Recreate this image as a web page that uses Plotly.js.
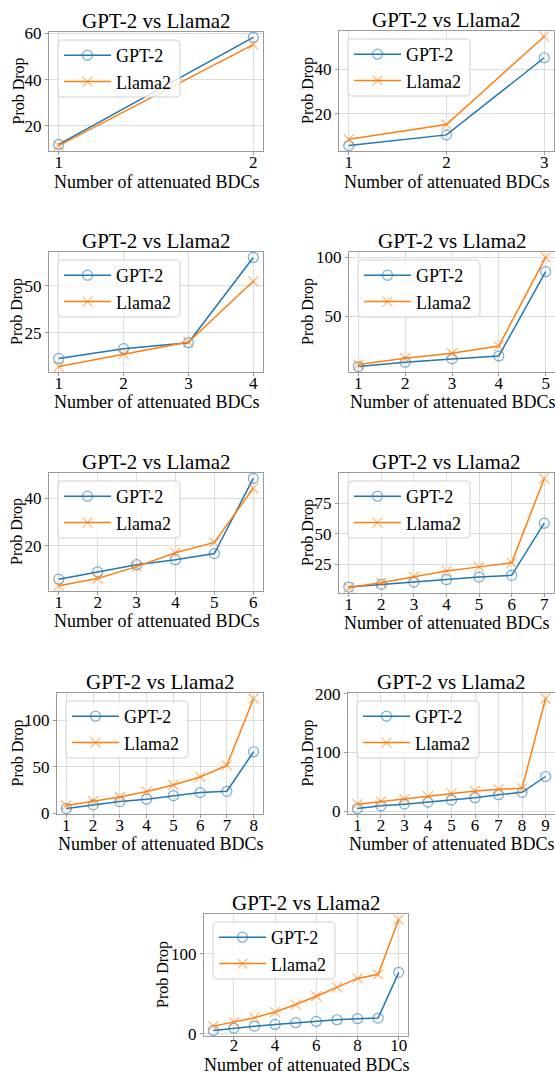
<!DOCTYPE html>
<html>
<head>
<meta charset="utf-8">
<script src="https://cdn.plot.ly/plotly-3.0.1.min.js"></script>
<style>html,body{margin:0;padding:0;background:#fff;}#chart{width:555px;height:1077px;}</style>
</head>
<body>
<div id="chart"></div>
<script>
// ---- data ----
const seriesNames = ["GPT-2", "Llama2"];
const chartTitle = "GPT-2 vs Llama2";
const xLabel = "Number of attenuated BDCs";
const yLabel = "Prob Drop";

const bdc_1 = [1, 2];
const gpt2_1 = [11.9, 58.3];
const llama2_1 = [11.4, 55.2];

const bdc_2 = [1, 2, 3];
const gpt2_2 = [5.6, 10.4, 45.2];
const llama2_2 = [8.4, 15.1, 54.8];

const bdc_3 = [1, 2, 3, 4];
const gpt2_3 = [11.3, 16.5, 19.7, 65.1];
const llama2_3 = [7.0, 13.6, 20.1, 52.4];

const bdc_4 = [1, 2, 3, 4, 5];
const gpt2_4 = [7.3, 11.0, 13.8, 16.3, 87.9];
const llama2_4 = [9.0, 14.4, 18.6, 24.7, 100.0];

const bdc_5 = [1, 2, 3, 4, 5, 6];
const gpt2_5 = [5.9, 9.0, 12.0, 14.1, 16.7, 48.3];
const llama2_5 = [3.2, 6.2, 11.2, 17.0, 21.4, 44.1];

const bdc_6 = [1, 2, 3, 4, 5, 6, 7];
const gpt2_6 = [6.3, 8.5, 10.4, 12.3, 14.5, 15.9, 58.5];
const llama2_6 = [5.9, 9.8, 14.8, 19.5, 22.8, 26.1, 95.1];

const bdc_7 = [1, 2, 3, 4, 5, 6, 7, 8];
const gpt2_7 = [5.0, 8.9, 12.5, 15.0, 18.9, 22.1, 23.5, 66.0];
const llama2_7 = [8.2, 13.1, 17.4, 23.2, 30.3, 38.9, 51.4, 123.2];

const bdc_8 = [1, 2, 3, 4, 5, 6, 7, 8, 9];
const gpt2_8 = [4.6, 9.2, 12.0, 15.4, 18.9, 23.0, 28.1, 32.1, 59.0];
const llama2_8 = [12.0, 16.6, 20.6, 25.7, 30.3, 34.3, 37.2, 38.9, 191.6];

const bdc_9 = [1, 2, 3, 4, 5, 6, 7, 8, 9, 10];
const gpt2_9 = [4.2, 7.1, 9.6, 11.7, 13.9, 15.5, 17.6, 18.9, 19.7, 76.9];
const llama2_9 = [9.6, 14.6, 20.2, 27.2, 36.6, 47.0, 58.0, 69.3, 74.4, 142.9];

const panelData = [
  [bdc_1, gpt2_1, llama2_1],
  [bdc_2, gpt2_2, llama2_2],
  [bdc_3, gpt2_3, llama2_3],
  [bdc_4, gpt2_4, llama2_4],
  [bdc_5, gpt2_5, llama2_5],
  [bdc_6, gpt2_6, llama2_6],
  [bdc_7, gpt2_7, llama2_7],
  [bdc_8, gpt2_8, llama2_8],
  [bdc_9, gpt2_9, llama2_9]
];

// ---- layout (pixel boxes: left, right, top, bottom) ----
const W = 555, H = 1077;
const boxes = [
  [49, 263, 32, 151],
  [339, 554, 31, 151],
  [49, 263, 252, 372],
  [349, 555, 252, 372],
  [49, 263, 473, 591],
  [339, 554, 473, 593],
  [57, 263, 693, 814],
  [348, 555, 693, 814],
  [204, 408, 914, 1036]
];
const yDticks = [20, 20, 25, 50, 20, 25, 50, 100, 100];
const xDticks = [1, 1, 1, 1, 1, 1, 1, 1, 2];
const yTitleOffset = [31, 31, 32, 41, 32, 31, 39, 40, 41];
const xTitleGap = [38, 38, 37, 37, 37, 37, 37, 37, 36];
const xLabelStandoff = [-7, -7, -7, -7, -7, -7, -7, -7, -9];

const FONT = "Liberation Serif";
const BLUE = "#1f77b4", ORANGE = "#ff7f0e";

const traces = [];
const layout = {
  width: W, height: H,
  margin: {l: 0, r: 0, t: 0, b: 0},
  paper_bgcolor: "#fff", plot_bgcolor: "#fff",
  font: {family: FONT, color: "#000", size: 17},
  annotations: [],
  shapes: []
};

function px(x) { return x / W; }
function py(y) { return 1 - y / H; }

panelData.forEach((p, i) => {
  const n = i + 1;
  const sfx = n === 1 ? "" : String(n);
  const [l, r, t, b] = boxes[i];
  const xs = p[0];
  const all = p[1].concat(p[2]);
  const ymin = Math.min(...all), ymax = Math.max(...all);
  const ypad = 0.05 * (ymax - ymin);
  const xmin = Math.min(...xs), xmax = Math.max(...xs);
  const xpad = 0.05 * (xmax - xmin);
  const legName = "legend" + sfx;

  traces.push({
    x: xs, y: p[1], name: seriesNames[0], type: "scatter", mode: "lines+markers",
    xaxis: "x" + sfx, yaxis: "y" + sfx, legend: legName, legendgroup: "g" + n + "a",
    line: {color: BLUE, width: 1.5},
    marker: {symbol: "circle-open", size: 10, color: "rgba(31,119,180,0.6)", line: {width: 1.2, color: "rgba(31,119,180,0.6)"}}
  });
  traces.push({
    x: xs, y: p[2], name: seriesNames[1], type: "scatter", mode: "lines+markers",
    xaxis: "x" + sfx, yaxis: "y" + sfx, legend: legName, legendgroup: "g" + n + "b",
    line: {color: ORANGE, width: 1.5},
    marker: {symbol: "x-thin-open", size: 10, color: "rgba(255,127,14,0.6)", line: {width: 1.2, color: "rgba(255,127,14,0.6)"}}
  });

  const axCommon = {
    showline: true, mirror: true, linecolor: "#9a9a9a", linewidth: 1,
    showgrid: true, gridcolor: "#dcdcdc", gridwidth: 1,
    zeroline: false, ticks: "outside", tickcolor: "#9a9a9a",
    tickfont: {family: FONT, size: 17, color: "#000"}
  };
  layout["xaxis" + sfx] = Object.assign({}, axCommon, {
    domain: [l / W, r / W], anchor: "y" + sfx, ticklen: 3, ticklabelstandoff: xLabelStandoff[i],
    range: [xmin - xpad, xmax + xpad], tick0: 0, dtick: xDticks[i]
  });
  layout["yaxis" + sfx] = Object.assign({}, axCommon, {
    domain: [1 - b / H, 1 - t / H], anchor: "x" + sfx, ticklen: 3,
    range: [ymin - ypad, ymax + ypad], tick0: 0, dtick: yDticks[i]
  });

  // legend frame (rounded box) drawn as a shape; legend itself transparent
  const bx0 = l + 9, by0 = t + 8, bw = 122, bh = 57, rr = 4;
  const X = v => px(v).toFixed(5), Y = v => py(v).toFixed(5);
  const path = "M" + X(bx0 + rr) + "," + Y(by0) +
    " L" + X(bx0 + bw - rr) + "," + Y(by0) +
    " Q" + X(bx0 + bw) + "," + Y(by0) + " " + X(bx0 + bw) + "," + Y(by0 + rr) +
    " L" + X(bx0 + bw) + "," + Y(by0 + bh - rr) +
    " Q" + X(bx0 + bw) + "," + Y(by0 + bh) + " " + X(bx0 + bw - rr) + "," + Y(by0 + bh) +
    " L" + X(bx0 + rr) + "," + Y(by0 + bh) +
    " Q" + X(bx0) + "," + Y(by0 + bh) + " " + X(bx0) + "," + Y(by0 + bh - rr) +
    " L" + X(bx0) + "," + Y(by0 + rr) +
    " Q" + X(bx0) + "," + Y(by0) + " " + X(bx0 + rr) + "," + Y(by0) + " Z";
  layout.shapes.push({
    type: "path", xref: "paper", yref: "paper", path: path, layer: "above",
    fillcolor: "rgba(255,255,255,0.8)", line: {color: "#d0d0d0", width: 1}
  });
  layout[legName] = {
    x: px(l + 10), y: py(t + 5), xanchor: "left", yanchor: "top",
    xref: "paper", yref: "paper",
    bgcolor: "rgba(0,0,0,0)", borderwidth: 0,
    font: {family: FONT, size: 18, color: "#000"},
    itemwidth: 47, tracegroupgap: 0
  };
  // subplot title
  layout.annotations.push({
    text: chartTitle, xref: "paper", yref: "paper",
    x: px((l + r) / 2), y: py(t), xanchor: "center", yanchor: "bottom",
    yshift: -3, showarrow: false, font: {family: FONT, size: 21, color: "#000"}
  });
  // x-axis title
  layout.annotations.push({
    text: xLabel, xref: "paper", yref: "paper",
    x: px((l + r) / 2), y: py(b + xTitleGap[i]), xanchor: "center", yanchor: "bottom",
    yshift: -5, showarrow: false, font: {family: FONT, size: 18, color: "#000"}
  });
  // y-axis title
  layout.annotations.push({
    text: yLabel, xref: "paper", yref: "paper", textangle: -90,
    x: px(l - yTitleOffset[i]), y: py((t + b) / 2), xanchor: "center", yanchor: "middle",
    showarrow: false, font: {family: FONT, size: 16, color: "#000"}
  });
});

Plotly.newPlot("chart", traces, layout, {displayModeBar: false, staticPlot: true});
</script>
</body>
</html>
